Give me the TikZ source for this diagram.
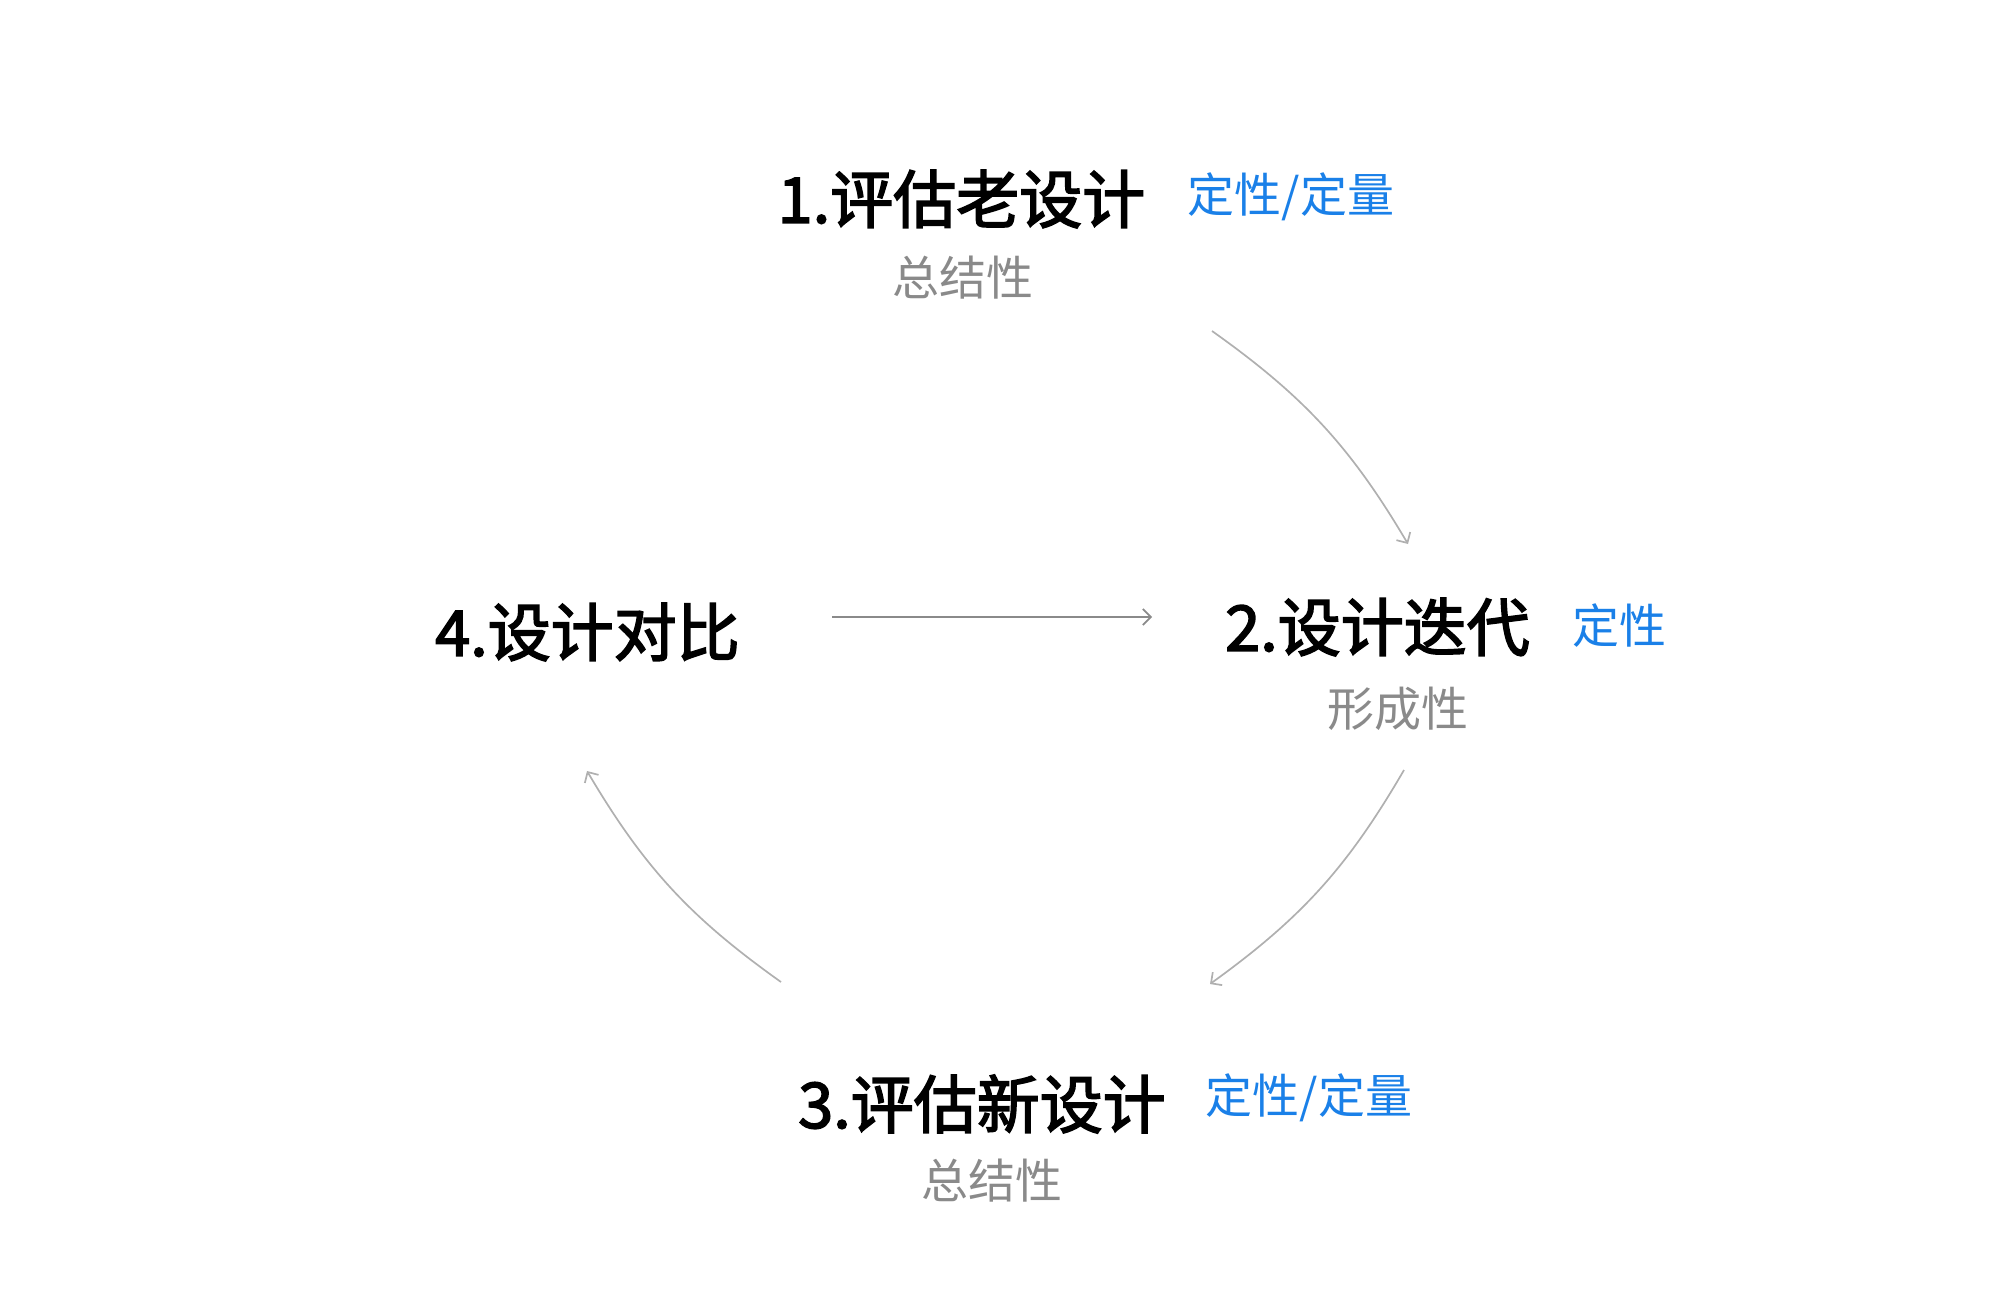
\documentclass[tikz,border=0pt]{standalone}
\usepackage{fontspec}
\setmainfont{Noto Sans CJK SC}
\newfontfamily\titlefont{Noto Sans CJK SC}[FakeBold=2.6]
\usetikzlibrary{arrows.meta}
\definecolor{qblue}{HTML}{1A80E8}
\definecolor{sgray}{HTML}{8A8A8A}
\definecolor{lgray}{HTML}{B0B0B0}
\definecolor{hgray}{HTML}{8A8A8A}
\tikzset{
  title/.style={inner sep=0pt, font=\fontsize{31.5pt}{32pt}\titlefont, text=black},
  qual/.style={inner sep=0pt, font=\fontsize{23.5pt}{24pt}\selectfont, text=qblue},
  kind/.style={inner sep=0pt, font=\fontsize{23.5pt}{24pt}\selectfont, text=sgray},
  cycarrow/.style={draw=lgray, line width=0.85pt, -{Straight Barb[length=4pt,width=8pt,line width=0.85pt]}},
  flatarrow/.style={draw=hgray, line width=0.85pt, -{Straight Barb[length=4pt,width=8pt,line width=0.85pt]}}
}
\begin{document}
\begin{tikzpicture}[x=0.5pt,y=-0.5pt]
\useasboundingbox (0,0) rectangle (2000,1296);
\node[title] (t1) at (961.5,199) {1.评估老设计};
\node[qual]  (q1) at (1291,197) {定性/定量};
\node[kind]  (s1) at (963,278) {总结性};
\node[title] (t2) at (1377.5,627) {2.设计迭代};
\node[qual]  (q2) at (1619,626) {定性};
\node[kind]  (s2) at (1398,709) {形成性};
\node[title] (t3) at (982,1104) {3.评估新设计};
\node[qual]  (q3) at (1309,1098) {定性/定量};
\node[kind]  (s3) at (992,1181) {总结性};
\node[title] (t4) at (587.5,632) {4.设计对比};
\coordinate (a1s) at (1212,331);
\coordinate (a1e) at (1408,544);
\coordinate (a2s) at (1404,770);
\coordinate (a2e) at (1210,984);
\coordinate (a3s) at (781,982);
\coordinate (a3e) at (587,771);
\coordinate (a4s) at (832,617);
\coordinate (a4e) at (1152,617);
\draw[cycarrow] (a1s) to[bend left=12] (a1e);
\draw[cycarrow] (a2s) to[bend left=12] (a2e);
\draw[cycarrow] (a3s) to[bend left=12] (a3e);
\draw[flatarrow] (a4s) -- (a4e);
\end{tikzpicture}
\end{document}
